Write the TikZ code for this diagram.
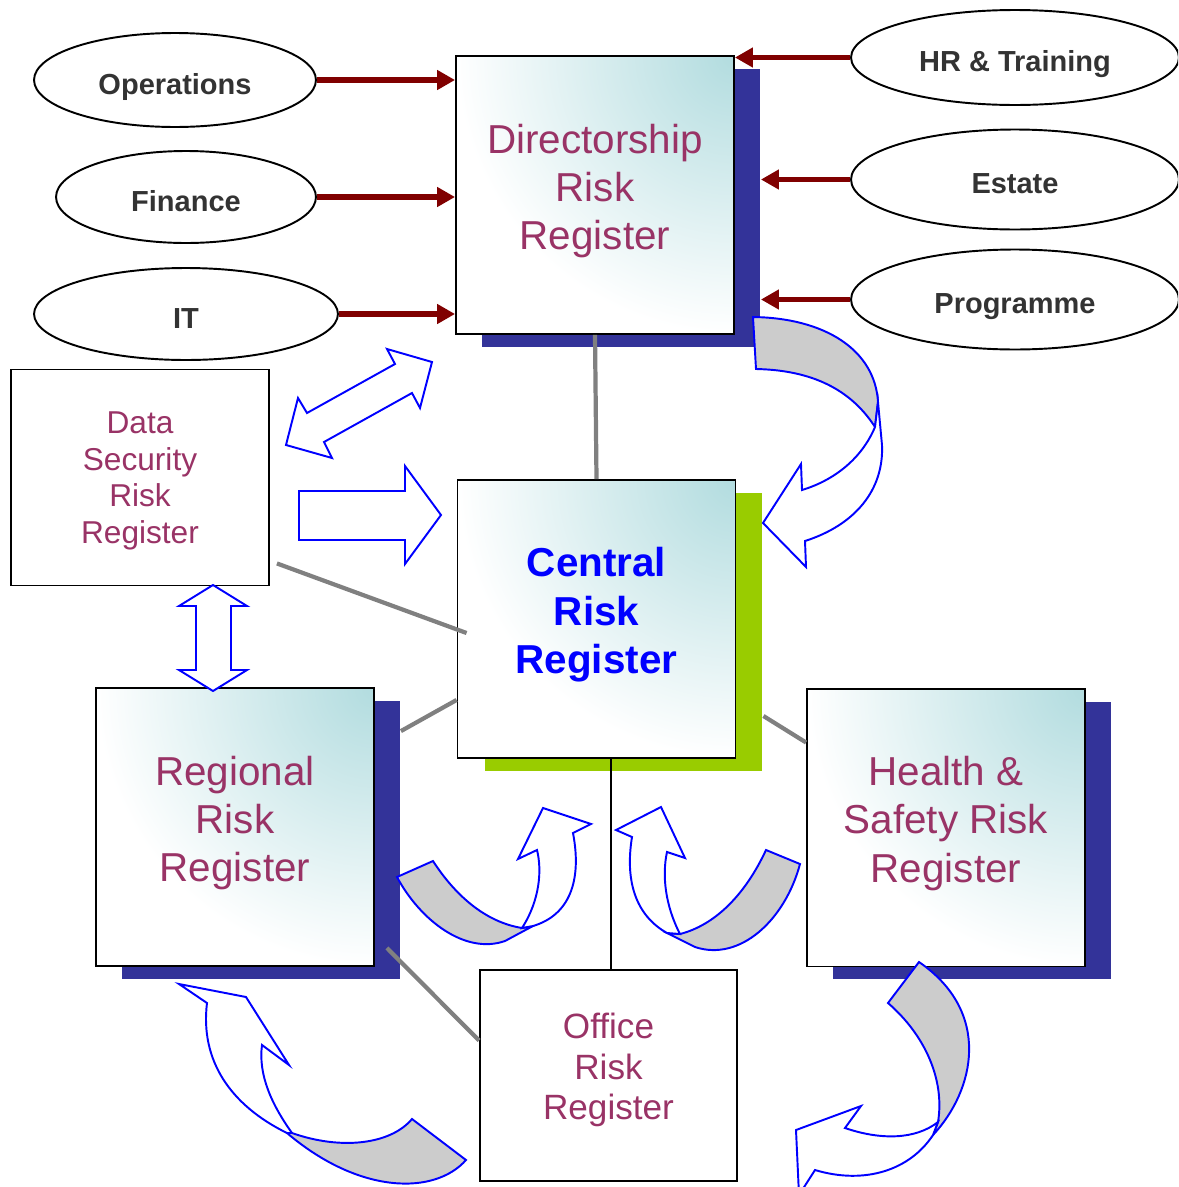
\documentclass[tikz,border=0pt]{standalone}
\usepackage{fontspec}
\setmainfont{Liberation Sans}
\usepackage{tikz}
\usetikzlibrary{calc,arrows.meta,shapes.geometric,shadows}
\definecolor{regmaroon}{HTML}{993366}
\definecolor{regteal}{HTML}{B2DCDF}
\definecolor{shadowblue}{HTML}{333399}
\definecolor{shadowgreen}{HTML}{99CC00}
\definecolor{feedred}{HTML}{800000}
\definecolor{linegrey}{HTML}{808080}
\definecolor{bandfill}{HTML}{CCCCCC}
\definecolor{unittext}{HTML}{333333}
% invisible strut that deepens the last line of a box label
\newcommand{\deepline}[1]{\rule[-#1]{0pt}{0pt}}
% invisible strut that raises the first line of a box label
\newcommand{\tallline}[1]{\rule{0pt}{#1}}
\tikzset{
	every node/.style={font=\rmfamily},
	unit node/.style={ellipse,draw,line width=1.1pt,fill=white,inner sep=0pt,
		text=unittext,font=\fontsize{16.5}{20}\selectfont\bfseries,
		text height=16.4pt,text depth=0pt}
}

\begin{document}
\begin{tikzpicture}[x=0.02cm, y=-0.02cm,
	regbox/.style={rectangle, draw=black, line width=1.1pt, inner sep=0pt,
		minimum width=5.56cm, minimum height=5.56cm, align=center, fill=white,
		path picture={\shade[inner color=regteal, outer color=white]
			(path picture bounding box.north east) circle (5.56cm);},
		text=regmaroon, font=\fontsize{23}{27.5}\selectfont},
	blueshade/.style={general shadow={fill=shadowblue, shadow xshift=0.52cm, shadow yshift=-0.26cm}},
	greenshade/.style={general shadow={fill=shadowgreen, shadow xshift=0.54cm, shadow yshift=-0.26cm}},
	plainbox/.style={rectangle, draw=black, line width=1.1pt, fill=white, inner sep=0pt,
		align=center, text=regmaroon},
	feed/.style={draw=feedred, line width=3.4pt, -{Triangle[length=0.36cm,width=0.38cm]}},
	greyline/.style={draw=linegrey, line width=2.4pt},
	bandgrey/.style={fill=bandfill, draw=blue, line width=1.1pt},
	bodywhite/.style={fill=white, draw=blue, line width=1.1pt},]
	\useasboundingbox (0,0) rectangle (1178,1187);
	\clip (0,0) rectangle (1178,1187);

	\node[unit node, minimum width=5.64cm, minimum height=1.88cm] (1) at (175,80) {Operations};
	\node[unit node, minimum width=5.2cm, minimum height=1.84cm] (2) at (186,197) {Finance};
	\node[unit node, minimum width=6.08cm, minimum height=1.84cm] (3) at (186,314) {IT};
	\node[unit node, minimum width=6.56cm, minimum height=1.9cm] (4) at (1015,57.5) {HR \& Training};
	\node[unit node, minimum width=6.56cm, minimum height=2cm] (5) at (1015,179.5) {Estate};
	\node[unit node, minimum width=6.56cm, minimum height=2cm] (6) at (1015,299.5) {Programme};

	\node[regbox, blueshade] (7) at (595,195) {Directorship\\Risk\\Register\deepline{9.3pt}};
	\node[regbox, greenshade, text=blue, font=\fontsize{23}{27.5}\selectfont\bfseries] (8) at (596.5,619) {Central\\Risk\\Register\deepline{9.8pt}};
	\node[regbox, blueshade] (9) at (235,827) {Regional\\Risk\\Register\deepline{9.3pt}};
	\node[regbox, blueshade] (10) at (946,827.5) {Health \&\\Safety Risk\\Register\deepline{9.3pt}};
	\node[plainbox, minimum width=5.16cm, minimum height=4.32cm,
		font=\fontsize{18}{20.7}\selectfont] (11) at (140,477.5) {\tallline{16.3pt}Data\\Security\\Risk\\Register};
	\node[plainbox, minimum width=5.14cm, minimum height=4.22cm,
		font=\fontsize{20}{23.2}\selectfont] (12) at (608.5,1075.5) {Office\\Risk\\Register\deepline{10.4pt}};

	% Feeds into the directorship register
	\draw[feed] (1.east) -- (1.east -| 7.west);
	\draw[feed] (2.east) -- (2.east -| 7.west);
	\draw[feed] (3.east) -- (3.east -| 7.west);
	\draw[feed] (4.west) -- (4.west -| 7.east);
	\draw[feed] (5.west) -- ($(5.west -| 7.east)+(26,0)$);
	\draw[feed] (6.west) -- ($(6.west -| 7.east)+(26,0)$);

	% Grey links
	\draw[greyline] (7.south) -- (8.north);
	\draw[greyline] ($(11.south east)+(7,-23)$) -- ($(8.west)+(10,14)$);
	\draw[greyline] ($(9.north east)+(26,44)$) -- ($(8.west)+(0,81)$);
	\draw[greyline] ($(8.east)+(27,97)$) -- ($(10.west)+(0,-85)$);
	\draw[greyline] ($(9.south east)+(12,-19)$) -- ($(12.west)+(0,-35)$);
	\draw[line width=1pt] ($(12.north)+(2.5,0)$) -- ($(12.north |- 8.south)+(2.5,0)$);

	% Straight block arrows
	\draw[bodywhite] (387,349) -- (432,362) -- (420,408) -- (412,393) -- (324,442) -- (332,458)
		-- (286,445) -- (298,398) -- (307,413) -- (395,364) -- cycle;
	\draw[bodywhite] (299,491) -- (405,491) -- (405,466) -- (441,515) -- (405,564) -- (405,540)
		-- (299,540) -- cycle;
	\draw[bodywhite] (213,585) -- (247,606) -- (231,606) -- (231,670) -- (247,670) -- (213,691)
		-- (179,670) -- (196,670) -- (196,606) -- (179,606) -- cycle;

	% Curved block arrows
	\draw[bandgrey] (753,317) .. controls (825,318) and (875,350) .. (878,402) -- (875,427)
		.. controls (848,385) and (805,370) .. (756,369) -- cycle;
	\draw[bodywhite] (875,427) .. controls (862,458) and (835,480) .. (802,490) -- (801,464)
		-- (763,523) -- (806,567) -- (805,541) .. controls (855,525) and (884,490) .. (882,445)
		-- (878,402) -- cycle;

	\draw[bandgrey] (397,877) -- (433,861) .. controls (455,895) and (485,922) .. (522,928)
		-- (533,926) -- (505,941) .. controls (465,955) and (420,920) .. (397,877) -- cycle;
	\draw[bodywhite] (522,928) .. controls (540,900) and (542,870) .. (537,850) -- (518,859)
		-- (543,808) -- (591,824) -- (573,833) .. controls (582,880) and (570,915) .. (533,926) -- cycle;

	\draw[bandgrey] (800,864) -- (766,850) .. controls (745,895) and (715,925) .. (680,934)
		-- (667,933) -- (695,947) .. controls (740,962) and (785,920) .. (800,864) -- cycle;
	\draw[bodywhite] (680,934) .. controls (665,905) and (662,875) .. (667,852) -- (685,858)
		-- (661,807) -- (616,830) -- (632,837) .. controls (625,880) and (635,915) .. (667,933) -- cycle;

	\draw[bandgrey] (292,1133) .. controls (340,1150) and (390,1145) .. (412,1119) -- (466,1160)
		.. controls (435,1195) and (360,1195) .. (287,1133) -- cycle;
	\draw[bodywhite] (292,1133) .. controls (272,1105) and (258,1075) .. (262,1045) -- (289,1065)
		-- (246,997) -- (179,984) -- (207,1003) .. controls (200,1060) and (230,1105) .. (287,1133) -- cycle;

	\draw[bandgrey] (919,962) -- (888,1003) .. controls (925,1035) and (945,1080) .. (938,1122)
		-- (933,1135) .. controls (975,1090) and (992,1012) .. (919,962) -- cycle;
	\draw[bodywhite] (938,1122) .. controls (915,1140) and (880,1140) .. (845,1128) -- (861,1106)
		-- (796,1130) -- (799,1195) -- (815,1170) .. controls (865,1185) and (910,1170) .. (933,1135) -- cycle;
\end{tikzpicture}
\end{document}
